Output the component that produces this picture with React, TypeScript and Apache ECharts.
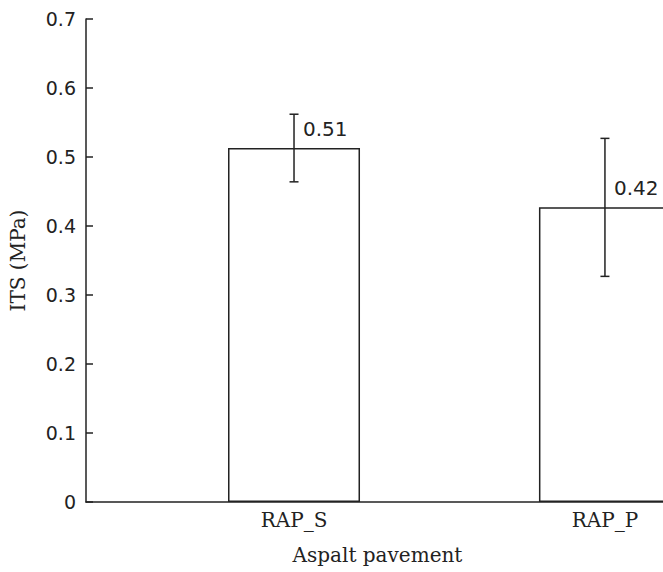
import React, { useEffect, useRef } from "react";
import * as echarts from "echarts";

const categories = ["RAP_S", "RAP_P"];
const positions = [1, 2];
const means = [0.513, 0.427];
const errors = [0.049, 0.1];
const valueLabels = ["0.51", "0.42"];
const yTickValues = [0, 0.1, 0.2, 0.3, 0.4, 0.5, 0.6, 0.7];

const INK = "#222";
const SERIF = '"DejaVu Serif", serif';
const SANS = '"DejaVu Sans", sans-serif';

export default function App() {
  const ref = useRef<HTMLDivElement>(null);
  useEffect(() => {
    if (!ref.current) return;
    const chart = echarts.init(ref.current, undefined, { renderer: "svg" });
    const barData = positions.map((p, i) => [p, means[i]]);
    const errData = positions.map((p, i) => [p, means[i], errors[i]]);
    chart.setOption({
      animation: false,
      backgroundColor: "#fff",
      grid: { left: 83, top: 19, width: 586, height: 483 },
      xAxis: {
        type: "value",
        min: 0.331,
        max: 2.206,
        name: "Aspalt pavement",
        nameLocation: "middle",
        nameGap: 43,
        nameTextStyle: { fontFamily: SERIF, fontSize: 20, color: INK },
        axisLine: { show: true, onZero: false, lineStyle: { color: INK, width: 1.5 } },
        axisTick: { show: false },
        splitLine: { show: false },
        axisLabel: {
          customValues: positions,
          formatter: (v: number) => categories[Math.round(v) - 1] ?? "",
          fontFamily: SERIF,
          fontSize: 20,
          color: INK,
          margin: 8,
        },
      },
      yAxis: {
        type: "value",
        min: 0,
        max: 0.7,
        interval: 0.1,
        name: "ITS (MPa)",
        nameLocation: "middle",
        nameGap: 58,
        nameTextStyle: { fontFamily: SERIF, fontSize: 20, color: INK },
        axisLine: { show: true, lineStyle: { color: INK, width: 1.5 } },
        axisTick: { show: true, inside: true, length: 7, lineStyle: { color: INK, width: 1.5 } },
        splitLine: { show: false },
        axisLabel: {
          formatter: (v: number) => {
            const t = yTickValues.find((y) => Math.abs(y - v) < 1e-6);
            return t === 0 ? "0" : (t ?? v).toFixed(1);
          },
          fontFamily: SANS,
          fontSize: 19,
          color: INK,
          margin: 10,
        },
      },
      series: [
        {
          type: "bar",
          data: barData,
          barWidth: 132,
          z: 2,
          itemStyle: { color: "#fff", borderColor: INK, borderWidth: 1.5 },
        },
        {
          type: "custom",
          data: errData,
          clip: false,
          z: 10,
          encode: { x: 0, y: 1 },
          renderItem: (params: any, api: any) => {
            const i = params.dataIndex;
            const x = positions[i];
            const m = means[i];
            const e = errors[i];
            const top = api.coord([x, m + e]);
            const bot = api.coord([x, m - e]);
            const mid = api.coord([x, m]);
            const cap = 4.5;
            const st = { stroke: INK, lineWidth: 1.5, fill: "none" };
            return {
              type: "group",
              children: [
                { type: "line", z2: 10, shape: { x1: top[0], y1: top[1], x2: bot[0], y2: bot[1] }, style: st },
                { type: "line", z2: 10, shape: { x1: top[0] - cap, y1: top[1], x2: top[0] + cap, y2: top[1] }, style: st },
                { type: "line", z2: 10, shape: { x1: bot[0] - cap, y1: bot[1], x2: bot[0] + cap, y2: bot[1] }, style: st },
                {
                  type: "text",
                  z2: 10,
                  x: mid[0] + 9,
                  y: mid[1] - 19.5,
                  style: {
                    text: valueLabels[i],
                    fill: INK,
                    font: `20px ${SANS}`,
                    textAlign: "left",
                    verticalAlign: "middle",
                  },
                },
              ],
            };
          },
        },
      ],
    });
    return () => chart.dispose();
  }, []);
  return (
    <div style={{ position: "fixed", left: 0, top: 0, width: 663, height: 572, overflow: "hidden", background: "#fff" }}>
      <div ref={ref} style={{ width: 700, height: 572 }} />
    </div>
  );
}
